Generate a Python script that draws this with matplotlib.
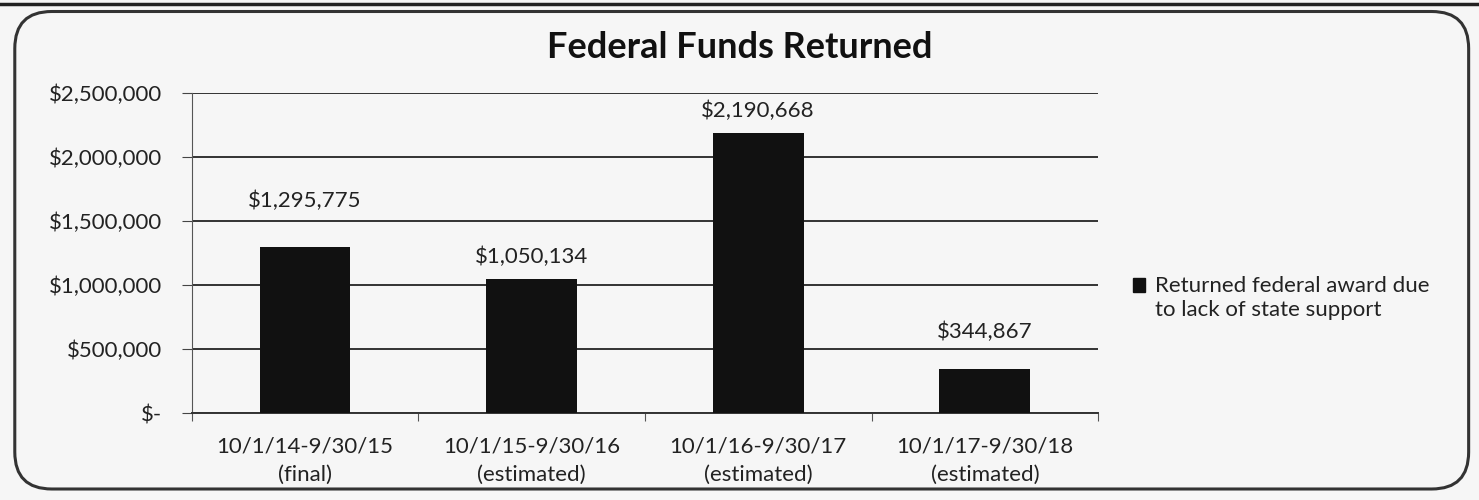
import matplotlib.pyplot as plt
from matplotlib.patches import FancyBboxPatch, Rectangle
from matplotlib.lines import Line2D
from matplotlib.legend_handler import HandlerPatch
from matplotlib.ticker import FuncFormatter

# data
periods = ['10/1/14-9/30/15\n(final)', '10/1/15-9/30/16\n(estimated)',
           '10/1/16-9/30/17\n(estimated)', '10/1/17-9/30/18\n(estimated)']
returned = [1295775, 1050134, 2190668, 344867]
label_offsets = [26, 8, 8, 19]
series_name = 'Returned federal award due\nto lack of state support'

plt.rcParams['font.family'] = ['Lato', 'DejaVu Sans']
fs = 16

fig = plt.figure(figsize=(14.79, 5), dpi=100)
fig.patch.set_facecolor('#f6f6f6')

# rounded frame around chart + scan line at top
frame = FancyBboxPatch((0.010, 0.022), 0.983, 0.955, boxstyle='round,pad=0,rounding_size=0.025',
                       transform=fig.transFigure, fill=False, edgecolor='#333333', linewidth=2.2,
                       mutation_aspect=1479/500)
fig.patches.append(frame)
fig.lines.append(Line2D([0, 1], [0.993, 0.993], transform=fig.transFigure, color='#222222', lw=2.5))

ax = fig.add_axes([0.1295, 0.174, 0.613, 0.64])
ax.set_facecolor('#f6f6f6')

x = range(len(periods))
ax.bar(x, returned, width=0.4, color='#111111', zorder=3)

for i, v in enumerate(returned):
    ax.annotate('${:,}'.format(v), (i, v), xytext=(0, label_offsets[i]), textcoords='offset points',
                ha='center', va='bottom', fontsize=fs, color='#222222')

ax.set_ylim(0, 2500000)
ax.set_xlim(-0.5, 3.5)
ax.set_yticks(range(0, 2500001, 500000))
ax.yaxis.set_major_formatter(FuncFormatter(lambda v, p: '$-' if v == 0 else '${:,.0f}'.format(v)))
ax.grid(axis='y', color='#333333', linewidth=1.4, zorder=0)

ax.set_xticks([-0.5, 0.5, 1.5, 2.5, 3.5])
ax.set_xticklabels([])
ax.set_xticks(list(x), minor=True)
ax.set_xticklabels(periods, minor=True, fontsize=fs, color='#222222', linespacing=1.5)
ax.tick_params(axis='x', which='minor', length=0, pad=17)
ax.tick_params(axis='x', which='major', length=6, direction='out', color='#555555')
ax.tick_params(axis='y', length=7, color='#444444', labelsize=fs, labelcolor='#222222', pad=14)

for s in ['top', 'right']:
    ax.spines[s].set_visible(False)
ax.spines['left'].set_color('#555555')
ax.spines['bottom'].set_color('#333333')
ax.spines['bottom'].set_linewidth(1.4)

fig.text(0.5, 1 - 47 / 500, 'Federal Funds Returned', fontsize=26, fontweight='bold',
         color='#111111', ha='center', va='center')


# legend square sits on the first text line, like Excel
def top_square(legend, orig_handle, xdescent, ydescent, width, height, fontsize):
    return Rectangle((-xdescent, -ydescent + 0.6 * fontsize), width, height)


leg = fig.legend([Rectangle((0, 0), 1, 1, color='#111111')], [series_name],
                 loc='center left', bbox_to_anchor=(0.7586, 0.404), frameon=False, borderpad=0,
                 fontsize=fs, handlelength=0.55, handleheight=0.55, handletextpad=0.45,
                 handler_map={Rectangle: HandlerPatch(patch_func=top_square)})
for t in leg.get_texts():
    t.set_color('#222222')

fig.savefig('out.png', dpi=100, facecolor=fig.get_facecolor())
